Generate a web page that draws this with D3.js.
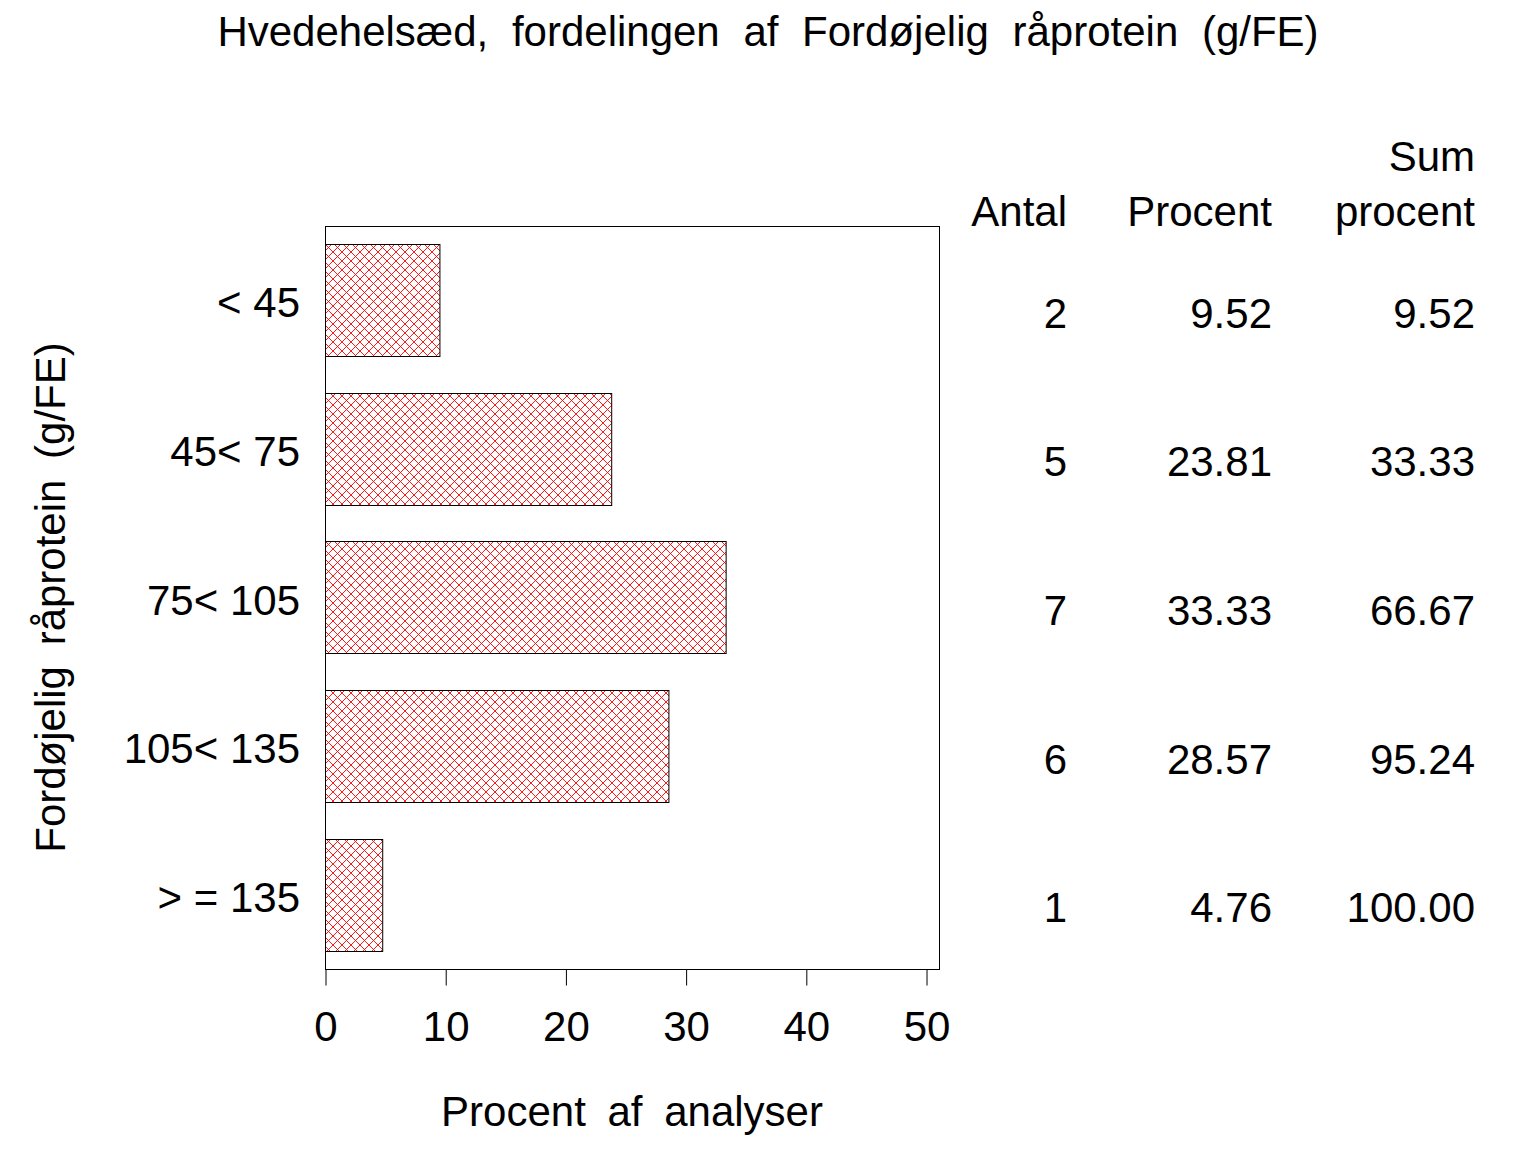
<!DOCTYPE html>
<html>
<head>
<meta charset="utf-8">
<script src="https://cdn.jsdelivr.net/npm/d3@7"></script>
<style>
  html, body { margin: 0; padding: 0; background: #fff; }
  svg { display: block; }
  text { font-family: "Liberation Sans", Arial, sans-serif; fill: #000; }
</style>
</head>
<body>
<script>
const categories = ["< 45", "45< 75", "75< 105", "105< 135", "> = 135"];
const percent = [9.52, 23.81, 33.33, 28.57, 4.76];
const antal = [2, 5, 7, 6, 1];
const sumPercent = [9.52, 33.33, 66.67, 95.24, 100.00];
const xTicks = [0, 10, 20, 30, 40, 50];
const title = "Hvedehelsæd, fordelingen af Fordøjelig råprotein (g/FE)";
const xTitle = "Procent af analyser";
const yTitle = "Fordøjelig råprotein (g/FE)";

(function () {
const W = 1536, H = 1152;
const svg = d3.select("body").append("svg").attr("width", W).attr("height", H);

const defs = svg.append("defs");
const pat = defs.append("pattern")
  .attr("id", "hatch").attr("patternUnits", "userSpaceOnUse")
  .attr("width", 9).attr("height", 9);
pat.append("path").attr("d", "M0,0L9,9M9,0L0,9M-1,8L1,10M8,-1L10,1")
  .attr("stroke", "#ff0000").attr("stroke-width", 0.9).attr("fill", "none");

const pLeft = 325, pRight = 939, pTop = 226, pBottom = 969;
const x = d3.scaleLinear().domain([0, 51.08]).range([pLeft, pRight]);
const y = d3.scaleBand().domain(categories).range([pTop, pBottom])
  .paddingInner(0.246).paddingOuter(0.123);

// frame
svg.append("rect").attr("x", pLeft + 0.5).attr("y", pTop + 0.5)
  .attr("width", pRight - pLeft).attr("height", pBottom - pTop)
  .attr("fill", "none").attr("stroke", "#000").attr("stroke-width", 1);

// bars
svg.selectAll("rect.bar").data(percent).enter().append("rect")
  .attr("class", "bar")
  .attr("x", x(0) + 0.5)
  .attr("y", (d, i) => Math.round(y(categories[i])) + 0.5)
  .attr("width", d => x(d) - x(0))
  .attr("height", Math.round(y.bandwidth()))
  .attr("fill", "url(#hatch)").attr("stroke", "#000").attr("stroke-width", 1);

// x axis
const xAxis = d3.axisBottom(x).tickValues(xTicks).tickSize(16).tickPadding(26).tickFormat(d3.format("d"));
const gx = svg.append("g").attr("transform", `translate(0.5,${pBottom + 0.5})`).call(xAxis);
gx.select(".domain").remove();
gx.selectAll(".tick line").attr("stroke", "#000");
gx.selectAll(".tick text").attr("font-size", 42).attr("font-family", "Liberation Sans, Arial, sans-serif").attr("fill", "#000").attr("dy", "0.71em");

// category labels
svg.selectAll("text.cat").data(categories).enter().append("text")
  .attr("class", "cat")
  .attr("x", 300).attr("y", d => y(d) + y.bandwidth() / 2 + 17)
  .attr("text-anchor", "end").attr("font-size", 42)
  .text(d => d);

// table
const cols = [
  { x: 1067, vals: antal.map(d => String(d)), head: ["", "Antal"] },
  { x: 1272, vals: percent.map(d => d.toFixed(2)), head: ["", "Procent"] },
  { x: 1475, vals: sumPercent.map(d => d.toFixed(2)), head: ["Sum", "procent"] }
];
cols.forEach(c => {
  svg.append("text").attr("x", c.x).attr("y", 171).attr("text-anchor", "end")
    .attr("font-size", 42).text(c.head[0]);
  svg.append("text").attr("x", c.x).attr("y", 226).attr("text-anchor", "end")
    .attr("font-size", 42).text(c.head[1]);
  svg.selectAll(null).data(c.vals).enter().append("text")
    .attr("x", c.x).attr("y", (d, i) => y(categories[i]) + y.bandwidth() / 2 + 27.5)
    .attr("text-anchor", "end").attr("font-size", 42).text(d => d);
});

// titles
svg.append("text").attr("x", 768).attr("y", 46).attr("text-anchor", "middle")
  .attr("font-size", 42).attr("word-spacing", 12).text(title);
svg.append("text").attr("x", (pLeft + pRight) / 2).attr("y", 1126).attr("text-anchor", "middle")
  .attr("font-size", 42).attr("word-spacing", 10).text(xTitle);
svg.append("text").attr("transform", `translate(65,${(pTop + pBottom) / 2}) rotate(-90)`)
  .attr("text-anchor", "middle").attr("font-size", 42).attr("word-spacing", 9).text(yTitle);
})();
</script>
</body>
</html>
